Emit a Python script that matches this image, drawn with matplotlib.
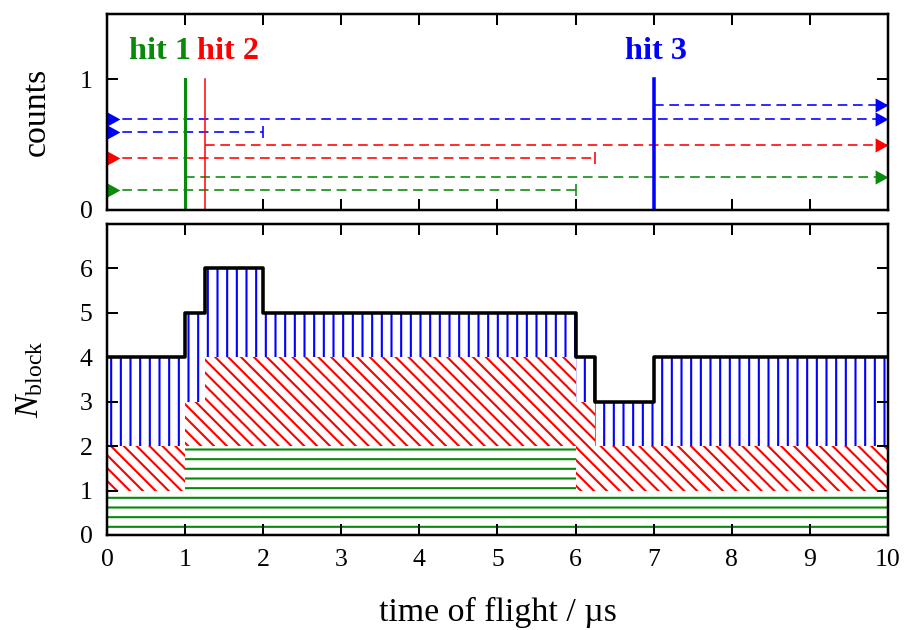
import numpy as np
import matplotlib.pyplot as plt

plt.rcParams['font.family'] = ['Liberation Serif', 'DejaVu Serif']
plt.rcParams['mathtext.fontset'] = 'custom'
plt.rcParams['mathtext.rm'] = 'Liberation Serif'
plt.rcParams['mathtext.it'] = 'Liberation Serif:italic'
plt.rcParams['hatch.linewidth'] = 1.3
plt.rcParams['axes.linewidth'] = 1.55

## dead-time blocks (top panel)
block_y = [0.15, 0.25, 0.4, 0.5, 0.6, 0.7, 0.8]
block_start = [0, 1, 0, 1.25, 0, 0, 7]
block_end = [6, 10, 6.25, 10, 2, 10, 10]
block_color = ['green', 'green', 'red', 'red', 'blue', 'blue', 'blue']

## detector hits
hit_x = [1, 1.25, 7]
hit_labels = ['hit 1', 'hit 2', 'hit 3']
hit_color = ['green', 'red', 'blue']
hit_lw = [1.9, 0.95, 2.2]

## number of blocks per time segment (bottom panel)
edges = [0, 1, 1.25, 2, 6, 6.25, 7, 10]
n_green = [1, 2, 2, 2, 1, 1, 1]
n_red = [1, 1, 2, 2, 2, 1, 1]
n_blue = [2, 2, 2, 1, 1, 1, 2]

colors = {'green': '#0a8a0a', 'red': '#ff0000', 'blue': '#0000ff'}

DPI = 116
fig = plt.figure(figsize=(908 / DPI, 630 / DPI), dpi=DPI)
ax1 = fig.add_axes([0.1178, 0.6667, 0.8601, 0.3111])
ax2 = fig.add_axes([0.1178, 0.1508, 0.8601, 0.4937])

## marker shapes: base at the point (left) / tip at the point (right)
tri_left = [(0, -0.55), (1, 0), (0, 0.55), (0, -0.55)]
tri_right = [(-1, -0.55), (0, 0), (-1, 0.55), (-1, -0.55)]

for y, s, e, c in zip(block_y, block_start, block_end, block_color):
    col = colors[c]
    ax1.plot([s, e], [y, y], color=col, lw=1.0, dashes=(6, 3.5))
    if s == 0:
        ax1.plot(s, y, marker=tri_left, ms=16, color=col, mew=0, clip_on=False)
    if e == 10:
        ax1.plot(e, y, marker=tri_right, ms=16, color=col, mew=0, clip_on=False)
    else:
        ax1.plot(e, y, marker='|', ms=7.5, color=col, mew=1.0)

for x, lab, c, lw in zip(hit_x, hit_labels, hit_color, hit_lw):
    ax1.plot([x, x], [0, 1], color=colors[c], lw=lw)

ax1.text(hit_x[0] + 0.08, 1.21, hit_labels[0], color=colors[hit_color[0]],
         fontsize=20, fontweight='bold', ha='right', va='center')
ax1.text(hit_x[1] - 0.1, 1.21, hit_labels[1], color=colors[hit_color[1]],
         fontsize=20, fontweight='bold', ha='left', va='center')
ax1.text(hit_x[2] + 0.03, 1.21, hit_labels[2], color=colors[hit_color[2]],
         fontsize=20, fontweight='bold', ha='center', va='center')

ax1.set_xlim(0, 10)
ax1.set_ylim(0, 1.5)
ax1.set_xticks(range(0, 11))
ax1.set_yticks([0, 1])
ax1.set_ylabel('counts', fontsize=21, va='center')
ax1.yaxis.set_label_coords(-0.0896, 0.5)

## stacked hatched areas
bottom = np.zeros(len(n_green))
for counts, c, hatch in [(n_green, 'green', '--'), (n_red, 'red', '\\\\\\'), (n_blue, 'blue', '||')]:
    top = bottom + np.array(counts)
    ax2.fill_between(edges, np.append(bottom, bottom[-1]), np.append(top, top[-1]),
                     step='post', facecolor='none', edgecolor=colors[c],
                     hatch=hatch, linewidth=0)
    bottom = top

ax2.step(edges, np.append(bottom, bottom[-1]), where='post', color='black', lw=2.2)

ax2.set_xlim(0, 10)
ax2.set_ylim(0, 7)
ax2.set_xticks(range(0, 11))
ax2.set_yticks(range(0, 7))
ax2.set_ylabel(r'$N_{\rm block}$', fontsize=21, va='center')
ax2.yaxis.set_label_coords(-0.0986, 0.5)
ax2.set_xlabel('time of flight / µs', fontsize=21, va='center')
ax2.xaxis.set_label_coords(0.5, -0.25)

for ax in (ax1, ax2):
    ax.tick_params(direction='in', top=True, right=True, length=6.8, width=1.25,
                   labelsize=16, pad=9)
ax1.tick_params(labelbottom=False)

fig.savefig('out.png', dpi=DPI)
